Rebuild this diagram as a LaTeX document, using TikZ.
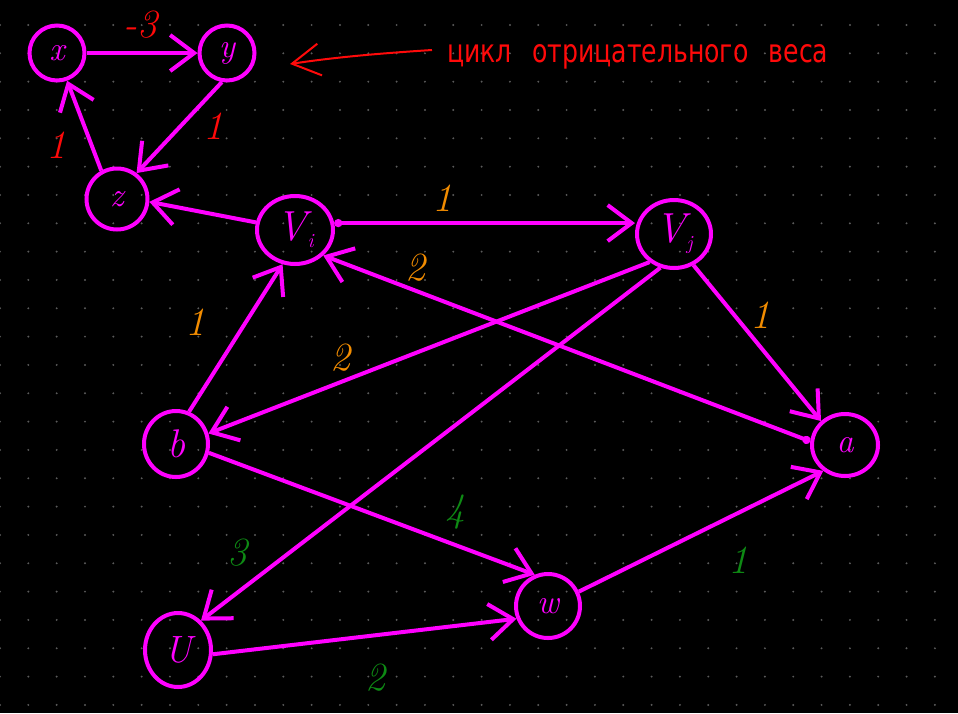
\documentclass[tikz,border=0pt]{standalone}
\usepackage{fontspec}
\usepackage{graphicx}
\newfontfamily\annfont{DejaVu Sans}
\usetikzlibrary{arrows.meta,shapes.geometric}
\definecolor{mag}{HTML}{FF00FF}
\definecolor{wred}{HTML}{FF0A0A}
\definecolor{worange}{HTML}{F28C00}
\definecolor{wgreen}{HTML}{0E8A14}
\definecolor{dotc}{HTML}{5A5A5A}
\newcommand{\subidx}[1]{\kern0.5pt\raisebox{-7pt}{\fontsize{20}{20}\selectfont #1}}
\tikzset{
  vtx/.style={ellipse, draw=mag, line width=4pt, inner sep=0pt, text=mag,
    font=\fontsize{34}{34}\selectfont\itshape},
  edge/.style={draw=mag, line width=4pt, -{Straight Barb[length=24pt,width=36pt]}},
  dotedge/.style={draw=mag, line width=4pt, {Circle[length=8pt]}-{Straight Barb[length=24pt,width=36pt]}},
  wlab/.style={font=\fontsize{40}{40}\selectfont\itshape},
  wr/.style={wlab, text=wred},
  wo/.style={wlab, text=worange},
  wg/.style={wlab, text=wgreen},
}
\begin{document}
\begin{tikzpicture}[x=1pt,y=-1pt]
\fill[black] (0,0) rectangle (958,713);
\useasboundingbox (0,0) rectangle (958,713);
% dotted grid
\foreach \i in {0,...,33} {
  \foreach \j in {0,...,24} {
    \fill[dotc] (\i*28.33, 25+\j*28.33) circle (1.1pt);
  }
}
% nodes
\node[vtx, minimum width=55pt, minimum height=55pt] (x) at (57,53) {x};
\node[vtx, minimum width=55pt, minimum height=55pt] (y) at (227,53) {y};
\node[vtx, minimum width=61pt, minimum height=61pt] (z) at (117,199) {z};
\node[vtx, minimum width=76pt, minimum height=68pt, font=\fontsize{42}{42}\selectfont\itshape] (vi) at (295,230) {V\subidx{i}};
\node[vtx, minimum width=74pt, minimum height=68pt, font=\fontsize{42}{42}\selectfont\itshape] (vj) at (674,234) {V\subidx{j}};
\node[vtx, minimum width=64pt, minimum height=66pt, font=\fontsize{40}{40}\selectfont\itshape] (b) at (176,444) {b};
\node[vtx, minimum width=66pt, minimum height=62pt] (a) at (845,445) {a};
\node[vtx, minimum width=66pt, minimum height=74pt, font=\fontsize{38}{38}\selectfont\itshape] (u) at (178,650) {U};
\node[vtx, minimum width=64pt, minimum height=64pt] (w) at (548,606) {w};
% cycle edges
\draw[edge] (x.east) -- (y.west);
\draw[edge] (y.260) -- (z.53);
\draw[edge] (z.119) -- (x.290);
% other edges
\draw[edge] (vi.169) -- (z.355);
\draw[dotedge] (vi.10) -- (vi.10 -| vj.west);
\draw[dotedge] (a.174) -- (vi.318);
\draw[edge] (b.68) -- (vi.250);
\draw[edge] (vj.229) -- (b.18);
\draw[edge] (vj.248) -- (u.52);
\draw[edge] (vj.302) -- (a.135);
\draw[edge] (b.345) -- (w.113);
\draw[edge] (u.353) -- (w.202);
\draw[edge] (w.25) -- (a.230);
% weights
\node[wr] (l1) at (140,25) {-3};
\node[wr] (l2) at (213,126) {1};
\node[wr] (l3) at (56,145) {1};
\node[wo] (l4) at (442,198) {1};
\node[wo] (l5) at (415,268) {2};
\node[wo] (l6) at (195,322) {1};
\node[wo] (l7) at (340,358) {2};
\node[wo] (l8) at (760,315) {1};
\node[wg] (l9) at (237,553) {3};
\node[wg] (l10) at (455,512) {4};
\node[wg] (l11) at (375,678) {2};
\node[wg] (l12) at (738,560) {1};
% annotation
\node[anchor=west, text=wred, inner sep=0pt] (ann) at (447,57)
  {\resizebox{381pt}{18pt}{\annfont цикл\hspace{0.8em}отрицательного\hspace{0.8em}веса}};
\coordinate (atail) at (432,50);
\coordinate (ahead) at (290,64);
\draw[wred, line width=2pt, -{Straight Barb[length=28pt,width=32pt]}] (atail) .. controls (370,54) and (330,58) .. (ahead);
\end{tikzpicture}
\end{document}
